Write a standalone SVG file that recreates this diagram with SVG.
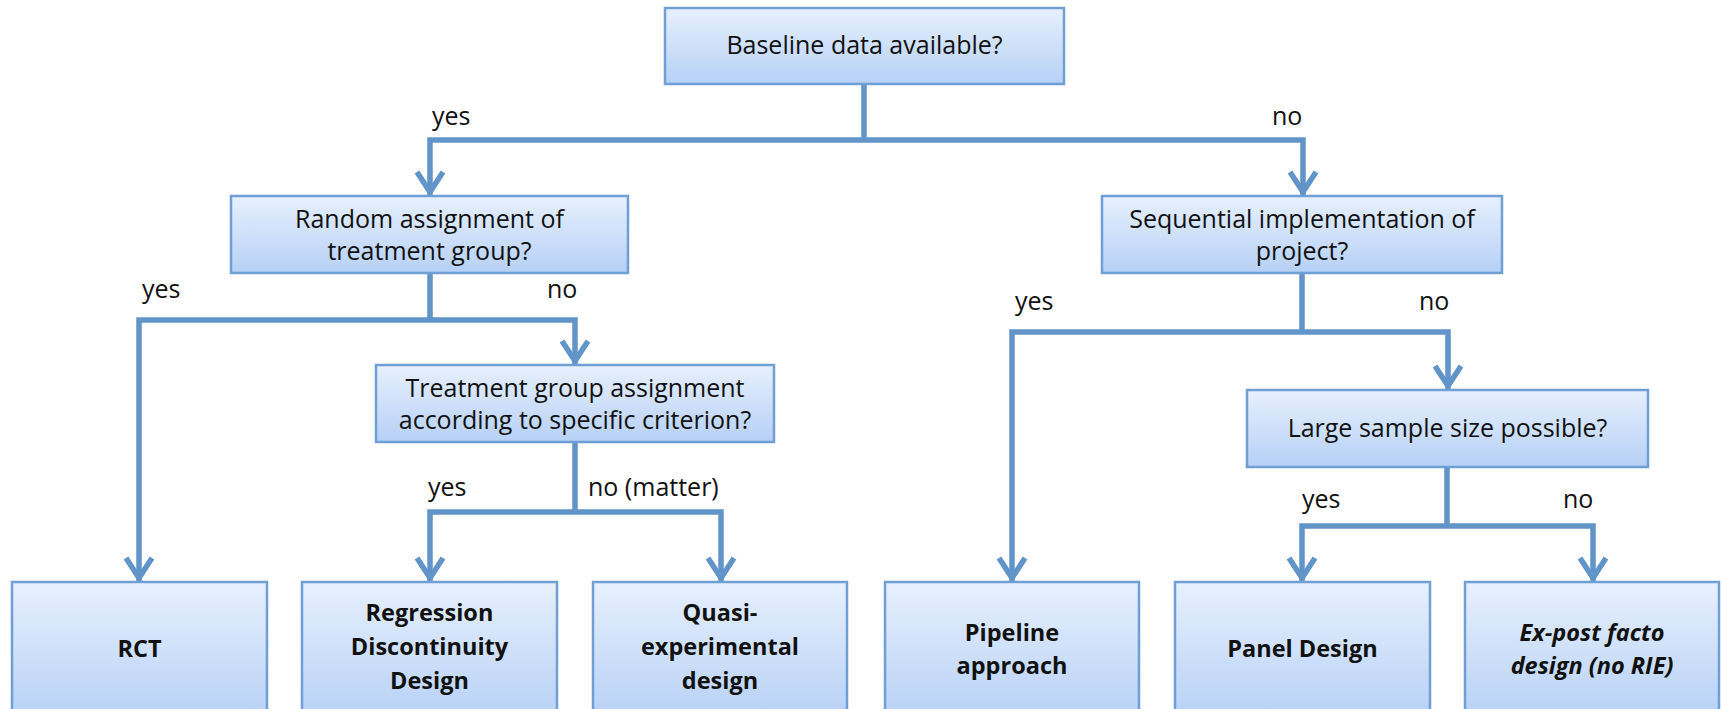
<svg xmlns="http://www.w3.org/2000/svg" width="1723" height="709" viewBox="0 0 1723 709">
<style>
.box{fill:url(#g);stroke:#6f9fd5;stroke-width:2.5}
.q{font-family:"Open Sans","Liberation Sans",sans-serif;font-size:25px;fill:#111;text-anchor:middle}
.r{font-family:"Open Sans","Liberation Sans",sans-serif;font-size:23.5px;font-weight:bold;fill:#111;text-anchor:middle}
.lbl{font-family:"Open Sans","Liberation Sans",sans-serif;font-size:25px;fill:#111}
.c{fill:none;stroke:#6194c8;stroke-width:5.5;stroke-linejoin:miter}
.a{marker-end:url(#arr)}
</style>
<defs>
<linearGradient id="g" x1="0" y1="0" x2="0" y2="1">
<stop offset="0" stop-color="#e7f0fd"/>
<stop offset="1" stop-color="#b6d0f6"/>
</linearGradient>
<marker id="arr" markerUnits="userSpaceOnUse" viewBox="-30 -18 36 36" markerWidth="36" markerHeight="36" refX="0" refY="0" orient="auto">
<path d="M-24,-13 L-4,0 L-24,13" fill="none" stroke="#6194c8" stroke-width="5.5"/>
</marker>
</defs>
<g id="connectors">
<path class="c" d="M864,84 V140"/>
<path class="c a" d="M864,140 H430 V196"/>
<path class="c a" d="M864,140 H1303 V196"/>
<path class="c" d="M430,273 V320"/>
<path class="c a" d="M430,320 H139 V582"/>
<path class="c a" d="M430,320 H575 V365"/>
<path class="c" d="M575,442 V512"/>
<path class="c a" d="M575,512 H430 V582"/>
<path class="c a" d="M575,512 H721 V582"/>
<path class="c" d="M1302,273 V332"/>
<path class="c a" d="M1302,332 H1012 V582"/>
<path class="c a" d="M1302,332 H1448 V390"/>
<path class="c" d="M1447,467 V526"/>
<path class="c a" d="M1447,526 H1302 V582"/>
<path class="c a" d="M1447,526 H1593 V582"/>
</g>
<g id="labels">
<text class="lbl" x="432" y="125">yes</text>
<text class="lbl" x="1272" y="125">no</text>
<text class="lbl" x="142" y="298">yes</text>
<text class="lbl" x="547" y="298">no</text>
<text class="lbl" x="428" y="496">yes</text>
<text class="lbl" x="588" y="496">no (matter)</text>
<text class="lbl" x="1015" y="310">yes</text>
<text class="lbl" x="1419" y="310">no</text>
<text class="lbl" x="1302" y="508">yes</text>
<text class="lbl" x="1563" y="508">no</text>
</g>
<g id="baseline">
<rect class="box" x="665" y="8" width="399" height="76"/>
<text class="q" x="864.5" y="54">Baseline data available?</text>
</g>
<g id="random">
<rect class="box" x="231" y="196" width="397" height="77"/>
<text class="q" x="429.5" y="228">Random assignment of</text>
<text class="q" x="429.5" y="260">treatment group?</text>
</g>
<g id="sequential">
<rect class="box" x="1102" y="196" width="400" height="77"/>
<text class="q" x="1302" y="228">Sequential implementation of</text>
<text class="q" x="1302" y="260">project?</text>
</g>
<g id="criterion">
<rect class="box" x="376" y="365" width="398" height="77"/>
<text class="q" x="575" y="397">Treatment group assignment</text>
<text class="q" x="575" y="429">according to specific criterion?</text>
</g>
<g id="largesample">
<rect class="box" x="1247" y="390" width="401" height="77"/>
<text class="q" x="1447.5" y="437">Large sample size possible?</text>
</g>
<g id="rct">
<rect class="box" x="12" y="582" width="255" height="140"/>
<text class="r" x="139.5" y="657">RCT</text>
</g>
<g id="rdd">
<rect class="box" x="302" y="582" width="255" height="140"/>
<text class="r" x="429.5" y="621">Regression</text>
<text class="r" x="429.5" y="655">Discontinuity</text>
<text class="r" x="429.5" y="689">Design</text>
</g>
<g id="quasi">
<rect class="box" x="593" y="582" width="254" height="140"/>
<text class="r" x="720" y="621">Quasi-</text>
<text class="r" x="720" y="655">experimental</text>
<text class="r" x="720" y="689">design</text>
</g>
<g id="pipeline">
<rect class="box" x="885" y="582" width="254" height="140"/>
<text class="r" x="1012" y="641">Pipeline</text>
<text class="r" x="1012" y="674">approach</text>
</g>
<g id="panel">
<rect class="box" x="1175" y="582" width="255" height="140"/>
<text class="r" x="1302.5" y="657">Panel Design</text>
</g>
<g id="expost">
<rect class="box" x="1465" y="582" width="254" height="140"/>
<text class="r" x="1592" y="641" font-style="italic">Ex-post facto</text>
<text class="r" x="1592" y="674" font-style="italic">design (no RIE)</text>
</g>
</svg>
